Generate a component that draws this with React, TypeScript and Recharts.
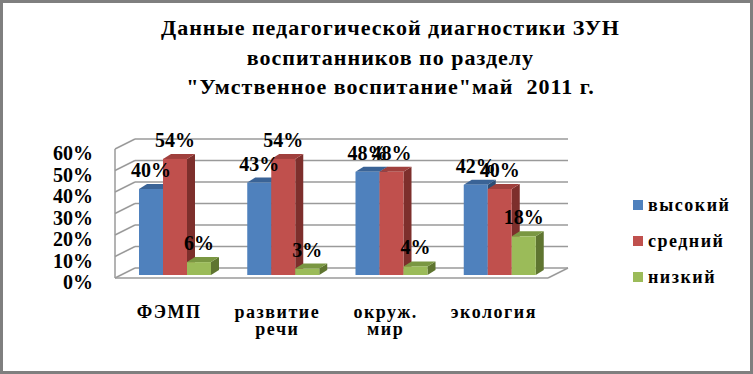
import React from "react";
import {
  BarChart,
  Bar,
  XAxis,
  YAxis,
  CartesianGrid,
  LabelList,
} from "recharts";

const categories = ["ФЭМП", "развитие\nречи", "окруж.\nмир", "экология"];
const highValues = [40, 43, 48, 42];
const midValues = [54, 54, 48, 40];
const lowValues = [6, 3, 4, 18];
const yTicks = [0, 10, 20, 30, 40, 50, 60];

const seriesNames = ["высокий", "средний", "низкий"];

const SERIES = [
  { key: "high", name: seriesNames[0], front: "#4F81BD", top: "#3A6396", side: "#2C4D75" },
  { key: "mid", name: seriesNames[1], front: "#C0504D", top: "#A0403D", side: "#7D2F2C" },
  { key: "low", name: seriesNames[2], front: "#9BBB59", top: "#7A9742", side: "#5F7530" },
];

const data = categories.map((name, i) => ({
  name,
  high: highValues[i],
  mid: midValues[i],
  low: lowValues[i],
}));

const FONT = '"Liberation Serif", serif';
// 3d offsets: bars sit a bit inside the box, back wall further
const BX = 6;
const BY = -3;
const WX = 20;
const WY = -10;
const DX = 8;
const DY = -5;
const GRID = "#9a9a9a";

const makeShape = (s: typeof SERIES[number]) => (props: any) => {
  const x = props.x + BX;
  const y = props.y + BY;
  const w = props.width;
  const h = props.height;
  return (
    <g>
      <polygon
        points={`${x + w},${y} ${x + w + DX},${y + DY} ${x + w + DX},${y + h + DY} ${x + w},${y + h}`}
        fill={s.side}
      />
      <polygon
        points={`${x},${y} ${x + DX},${y + DY} ${x + w + DX},${y + DY} ${x + w},${y}`}
        fill={s.top}
      />
      <rect x={x} y={y} width={w} height={h} fill={s.front} />
    </g>
  );
};

const valueLabel = (p: any) => (
  <text
    x={p.x + p.width / 2 + BX}
    y={p.y + BY - 19}
    textAnchor="middle"
    dominantBaseline="central"
    fontFamily={FONT}
    fontWeight="bold"
    fontSize={20}
    fill="#000"
  >
    {p.value}%
  </text>
);

const gridLine = (p: any) => (
  <g key={`g-${p.index}-${p.y1}`}>
    <line x1={p.x1 + WX} y1={p.y1 + WY} x2={p.x2 + WX} y2={p.y2 + WY} stroke={GRID} strokeWidth={1.5} />
    <line x1={p.x1} y1={p.y1} x2={p.x1 + WX} y2={p.y1 + WY} stroke={GRID} strokeWidth={1.5} />
    {p.index === 0 && (
      <line x1={p.x2} y1={p.y2} x2={p.x2 + WX} y2={p.y2 + WY} stroke={GRID} strokeWidth={1.5} />
    )}
  </g>
);

const XTick = (p: any) => {
  const lines = String(p.payload.value).split("\n");
  return (
    <text
      x={p.x}
      y={p.y}
      textAnchor="middle"
      fontFamily={FONT}
      fontWeight="bold"
      fontSize={18}
      letterSpacing={1.5}
      fill="#000"
    >
      {lines.map((l, i) => (
        <tspan key={i} x={p.x} dy={i === 0 ? 40 : 17}>
          {l}
        </tspan>
      ))}
    </text>
  );
};

const YTick = (p: any) => (
  <text
    x={p.x}
    y={p.y + 4}
    textAnchor="end"
    dominantBaseline="central"
    fontFamily={FONT}
    fontWeight="bold"
    fontSize={20}
    fill="#000"
  >
    {p.payload.value}%
  </text>
);

const LegendBox = () => (
  <div
    style={{
      position: "absolute",
      left: 627,
      top: 184,
      width: 120,
      fontFamily: FONT,
      fontWeight: "bold",
      fontSize: 18,
      letterSpacing: 1.5,
    }}
  >
    {SERIES.map((s) => (
      <div key={s.key} style={{ height: 36, display: "flex", alignItems: "center" }}>
        <span style={{ width: 10, height: 10, background: s.front, marginRight: 5, marginLeft: 3 }} />
        <span>{s.name}</span>
      </div>
    ))}
  </div>
);

export default function App() {
  return (
    <div
      style={{
        position: "absolute",
        left: 0,
        top: 0,
        width: 753,
        height: 374,
        boxSizing: "border-box",
        border: "3px solid #7f7f7f",
        background: "#fff",
      }}
    >
      <div
        style={{
          position: "absolute",
          left: 0,
          top: 10,
          width: 775,
          textAlign: "center",
          fontFamily: FONT,
          fontWeight: "bold",
          fontSize: 22,
          lineHeight: "29.5px",
          letterSpacing: 1,
          color: "#000",
        }}
      >
        Данные педагогической диагностики ЗУН
        <br />
        воспитанников по разделу
        <br />
        "Умственное воспитание"май&nbsp; 2011 г.
      </div>
      <BarChart
        width={747}
        height={368}
        data={data}
        margin={{ top: 146, right: 202, bottom: 63, left: 32 }}
        barGap={0}
        barSize={24}
      >
        <CartesianGrid horizontal={gridLine} vertical={false} />
        <XAxis
          dataKey="name"
          height={30}
          tick={<XTick />}
          tickLine={false}
          tickSize={0}
          tickMargin={0}
          axisLine={{ stroke: GRID, strokeWidth: 1.5 }}
          interval={0}
        />
        <YAxis
          width={80}
          domain={[0, 60]}
          ticks={yTicks}
          interval={0}
          tick={<YTick />}
          tickLine={false}
          tickSize={0}
          tickMargin={22}
          axisLine={{ stroke: GRID, strokeWidth: 1.5 }}
        />
        {SERIES.map((s) => (
          <Bar
            key={s.key}
            dataKey={s.key}
            name={s.name}
            fill={s.front}
            shape={makeShape(s)}
            isAnimationActive={false}
          >
            <LabelList dataKey={s.key} content={valueLabel} />
          </Bar>
        ))}
      </BarChart>
      <LegendBox />
    </div>
  );
}
